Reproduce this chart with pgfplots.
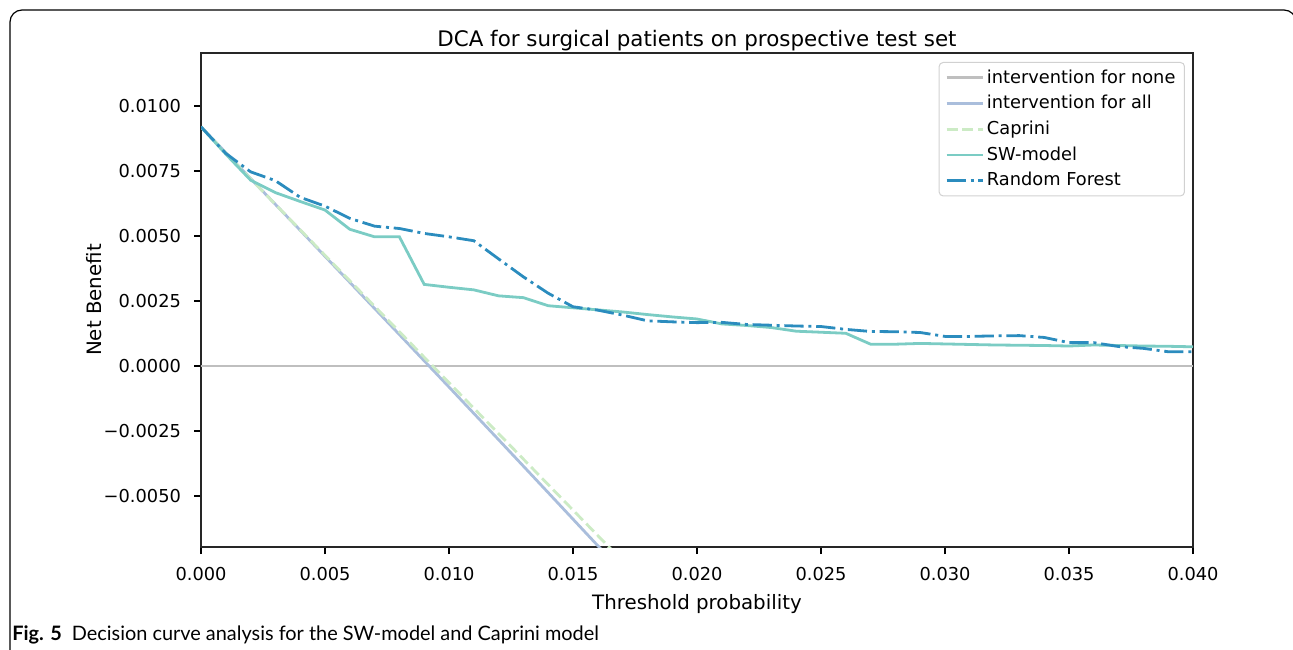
\documentclass[border=0pt]{standalone}
\usepackage{fontspec}
\setmainfont{DejaVu Sans}
\newfontfamily\capfont{Lato}
\usepackage{pgfplots}
\pgfplotsset{compat=1.18}

\definecolor{cnone}{RGB}{191,191,191}
\definecolor{call}{RGB}{170,190,220}
\definecolor{ccap}{RGB}{204,235,197}
\definecolor{csw}{RGB}{123,204,196}
\definecolor{crf}{RGB}{43,140,190}

\begin{document}
\begin{tikzpicture}
\path[use as bounding box] (0,0) rectangle (646.5pt,324.5pt);
% outer frame of the figure
\begin{scope}
\clip (0,0) rectangle (646.5pt,324.5pt);
\draw[line width=0.6pt, rounded corners=6pt] (5pt,-10pt) rectangle (648pt,319.5pt);
\end{scope}

\begin{axis}[
    at={(100.5pt,51pt)}, anchor=south west,
    width=496pt, height=247pt, scale only axis,
    xmin=0, xmax=0.04, ymin=-0.00696, ymax=0.01204,
    axis line style={line width=0.8pt, black!85},
    tick align=outside, xtick pos=bottom, ytick pos=left,
    major tick length=3.5pt,
    tick style={line width=0.8pt, black},
    scaled ticks=false,
    xtick={0,0.005,0.01,0.015,0.02,0.025,0.03,0.035,0.04},
    xticklabels={0.000,0.005,0.010,0.015,0.020,0.025,0.030,0.035,0.040},
    ytick={-0.005,-0.0025,0,0.0025,0.005,0.0075,0.01},
    yticklabels={−0.0050,−0.0025,0.0000,0.0025,0.0050,0.0075,0.0100},
    ticklabel style={font=\fontsize{8.9}{10}\selectfont},
    xticklabel style={yshift=-3pt},
    yticklabel style={xshift=-3pt},
    title={DCA for surgical patients on prospective test set},
    title style={font=\fontsize{10.7}{12}\selectfont, at={(0.5,1)}, anchor=base, yshift=-2.5pt},
    xlabel={Threshold probability},
    xlabel style={font=\fontsize{9.9}{11}\selectfont, at={(0.5,0)}, anchor=base, yshift=-31pt},
    ylabel={Net Benefit},
    ylabel style={font=\fontsize{9.9}{11}\selectfont, at={(0,0.5)}, anchor=base, yshift=50pt},
    legend cell align=left,
    legend image code/.code={\draw[#1] (0pt,0pt) -- (18pt,0pt);},
    legend style={at={(0.9919,0.9818)}, anchor=north east,
        draw=black!18, rounded corners=2pt, line width=0.5pt,
        font=\fontsize{8.9}{10}\selectfont,
        inner xsep=3pt, inner ysep=2pt,
        row sep=1.6pt,
        nodes={inner sep=1.5pt},
        /tikz/every even column/.append style={column sep=3pt}},
    every axis plot/.append style={line width=1.4pt},
    clip=true,
]
\addplot[cnone] coordinates {(0,0) (0.04,0)};
\addlegendentry{intervention for none}

\addplot[call] coordinates {
(0,0.0092) (0.002,0.007214) (0.004,0.005221) (0.006,0.003219) (0.008,0.001210)
(0.010,-0.000808) (0.012,-0.002834) (0.014,-0.004869) (0.016,-0.006910) (0.018,-0.008962)};
\addlegendentry{intervention for all}

\addplot[ccap, dash pattern=on 5.5pt off 2.4pt] coordinates {
(0,0.0092) (0.001,0.0082) (0.002,0.0072) (0.004,0.00524) (0.006,0.00328) (0.008,0.00132)
(0.010,-0.00064) (0.012,-0.0026) (0.014,-0.00456) (0.016,-0.00652) (0.018,-0.00848)};
\addlegendentry{Caprini}

\addplot[csw] coordinates {
(0,0.00920) (0.001,0.00815) (0.002,0.00715) (0.003,0.00667) (0.004,0.00633)
(0.005,0.00600) (0.006,0.00526) (0.007,0.00497) (0.008,0.00497) (0.009,0.00314)
(0.010,0.00303) (0.011,0.00293) (0.012,0.00270) (0.013,0.00263) (0.014,0.00232)
(0.015,0.00224) (0.016,0.00216) (0.017,0.00208) (0.018,0.00198) (0.019,0.00189)
(0.020,0.00181) (0.021,0.00162) (0.022,0.00156) (0.023,0.00148) (0.024,0.00134)
(0.025,0.00130) (0.026,0.00126) (0.027,0.00084) (0.028,0.00084) (0.029,0.00087)
(0.030,0.00085) (0.031,0.00083) (0.032,0.00081) (0.033,0.00080) (0.034,0.00079)
(0.035,0.00077) (0.036,0.00081) (0.037,0.00079) (0.038,0.00077) (0.039,0.00076)
(0.040,0.00074)};
\addlegendentry{SW-model}

\addplot[crf, dash pattern=on 9.6pt off 2.4pt on 1.5pt off 2.4pt] coordinates {
(0,0.00920) (0.001,0.00818) (0.002,0.00747) (0.003,0.00713) (0.004,0.00649)
(0.005,0.00615) (0.006,0.00568) (0.007,0.00538) (0.008,0.00529) (0.009,0.00510)
(0.010,0.00497) (0.011,0.00482) (0.012,0.00412) (0.013,0.00343) (0.014,0.00280)
(0.015,0.00228) (0.016,0.00215) (0.017,0.00196) (0.018,0.00174) (0.019,0.00170)
(0.020,0.00167) (0.021,0.00168) (0.022,0.00160) (0.023,0.00157) (0.024,0.00154)
(0.025,0.00152) (0.026,0.00141) (0.027,0.00133) (0.028,0.00132) (0.029,0.00129)
(0.030,0.00114) (0.031,0.00114) (0.032,0.00116) (0.033,0.00117) (0.034,0.00110)
(0.035,0.00090) (0.036,0.00090) (0.037,0.00075) (0.038,0.00068) (0.039,0.00055)
(0.040,0.00055)};
\addlegendentry{Random Forest}
\end{axis}

\node[anchor=base west, inner sep=0pt, font=\capfont\fontsize{9.95}{12}\selectfont]
  at (6pt,4.5pt) {\textbf{Fig. 5}\hspace{0.5em}Decision curve analysis for the SW-model and Caprini model};
\end{tikzpicture}
\end{document}
